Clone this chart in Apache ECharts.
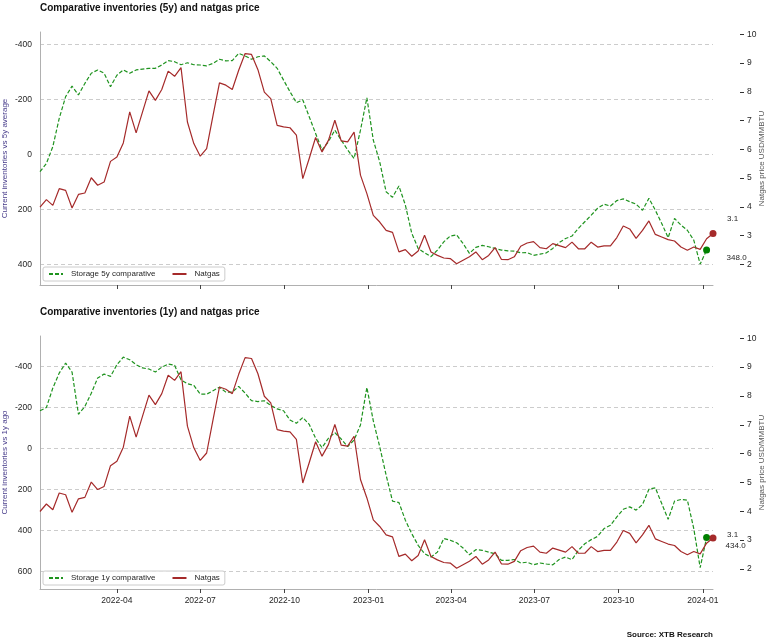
<!DOCTYPE html>
<html><head><meta charset="utf-8">
<script src="https://cdn.jsdelivr.net/npm/echarts@6/dist/echarts.min.js"></script>
<style>html,body{margin:0;padding:0;background:#fff}#c{width:770px;height:643px}</style>
</head><body><div id="c"></div>
<script>
// weekly observations starting 2022-01-07
const startDate = '2022-01-07';
const storage5y = [63,33,-28,-131,-210,-248,-216,-258,-295,-307,-295,-246,-288,-307,-295,-307,-310,-313,-313,-325,
  -341,-337,-326,-333,-326,-325,-322,-331,-346,-340,-341,-367,-358,-346,-355,-358,-337,-313,-270,-228,
  -188,-198,-137,-76,-16,-46,-88,-52,-16,15,-88,-206,-52,27,136,156,115,184,287,342,
  358,372,348,318,297,293,324,360,338,331,336,342,348,351,352,358,357,367,363,358,
  342,321,306,297,269,245,221,196,181,188,168,162,172,181,203,160,203,251,303,233,
  257,276,312,399,348];
const storage1y = [-185,-201,-296,-369,-418,-374,-168,-206,-271,-345,-364,-353,-410,-447,-434,-410,-394,-389,-374,-398,
  -413,-407,-336,-317,-309,-266,-266,-283,-300,-276,-276,-304,-271,-234,-230,-234,-211,-194,-185,-140,
  -124,-152,-119,-51,-5,-51,-78,-47,-10,-42,-116,-299,-136,-10,129,256,263,349,415,472,
  513,529,505,439,447,459,485,518,493,496,505,513,545,545,541,558,554,567,558,563,
  567,541,529,542,496,464,444,428,390,374,333,296,284,300,273,198,191,268,345,256,
  248,251,390,581,434];
const natgas = [3.99,4.25,4.05,4.63,4.57,3.96,4.43,4.48,5.01,4.75,4.86,5.58,5.73,6.22,7.30,6.57,7.30,8.03,7.70,8.08,
  8.72,8.54,8.84,6.95,6.20,5.76,6.02,7.18,8.31,8.23,8.08,8.75,9.33,9.30,8.77,7.99,7.76,6.83,6.78,6.75,
  6.49,4.98,5.68,6.41,5.91,6.31,7.01,6.29,6.26,6.60,5.10,4.46,3.70,3.47,3.18,3.11,2.43,2.51,2.28,2.46,
  3.01,2.43,2.31,2.22,2.20,2.02,2.14,2.26,2.43,2.16,2.31,2.58,2.17,2.16,2.26,2.63,2.74,2.79,2.58,2.54,
  2.72,2.65,2.58,2.77,2.54,2.54,2.77,2.60,2.64,2.64,2.93,3.33,3.23,2.90,3.18,3.51,3.04,2.95,2.86,2.81,
  2.60,2.49,2.60,2.52,2.89,3.07];
const xTickDates = ['2022-04-01','2022-07-01','2022-10-01','2023-01-01','2023-04-01','2023-07-01','2023-10-01','2024-01-01'];
const leftTicks5y = [-400,-200,0,200,400];
const leftTicks1y = [-400,-200,0,200,400,600];
const rightTicks = [2,3,4,5,6,7,8,9,10];

const WEEK = 7*24*3600*1000;
const t0 = Date.parse(startDate + 'T00:00:00Z');
const dates = natgas.map((_, i) => t0 + i * WEEK);
const xTicks = xTickDates.map(s => Date.parse(s + 'T00:00:00Z'));
const fmtDate = v => { const d = new Date(v); return d.getUTCFullYear() + '-' + String(d.getUTCMonth() + 1).padStart(2, '0'); };

const FONT = '"Liberation Sans", Arial, sans-serif';
const GREEN = '#1f931f', GREEN_DOT = '#008000', RED = '#a52a2a';
const xMin = dates[0], xMax = dates[dates.length - 1];

function xAxis(gi, showLabels) {
  return {
    type: 'value', gridIndex: gi, min: xMin, max: xMax,
    axisLine: { show: true, onZero: false, lineStyle: { color: '#b0b0b0', width: 1 } },
    axisTick: { show: true, length: 4, customValues: xTicks, lineStyle: { color: '#444' } },
    axisLabel: { show: showLabels, customValues: xTicks, formatter: fmtDate, fontSize: 8.5, color: '#262626', margin: 7, fontFamily: FONT },
    splitLine: { show: false }
  };
}
function leftAxis(gi, mn, mx, ticks, name) {
  return {
    type: 'value', gridIndex: gi, position: 'left', inverse: true, min: mn, max: mx,
    axisLine: { show: true, onZero: false, lineStyle: { color: '#b0b0b0', width: 1 } },
    axisTick: { show: false, customValues: ticks },
    axisLabel: { customValues: ticks, fontSize: 8.5, color: '#262626', margin: 8, fontFamily: FONT },
    splitLine: { show: true, lineStyle: { color: '#cccccc', type: [4, 3], width: 1 } },
    name: name, nameLocation: 'middle', nameGap: 31, nameMoveOverlap: false,
    nameTextStyle: { color: '#483d8b', fontSize: 8, fontFamily: FONT }
  };
}
function rightAxis(gi, mn, mx) {
  return {
    type: 'value', gridIndex: gi, position: 'right', offset: 27, min: mn, max: mx,
    axisLine: { show: false, onZero: false },
    axisTick: { show: true, length: 4, customValues: rightTicks, lineStyle: { color: '#333' } },
    axisLabel: { customValues: rightTicks, fontSize: 8.5, color: '#262626', margin: 7, fontFamily: FONT },
    splitLine: { show: false },
    name: 'Natgas price USD/MMBTU', nameLocation: 'middle', nameGap: 18, nameMoveOverlap: false,
    nameTextStyle: { color: '#555', fontSize: 8, fontFamily: FONT }
  };
}
function lineSeries(name, xi, yi, vals, color, dashed) {
  return {
    name: name, type: 'line', xAxisIndex: xi, yAxisIndex: yi,
    data: vals.map((v, i) => [dates[i], v]),
    symbol: 'none', showSymbol: false, animation: false,
    lineStyle: { color: color, width: 1.2, type: dashed ? [4, 2] : 'solid' },
    itemStyle: { color: color }
  };
}
function dotSeries(name, xi, yi, vals, color, offset) {
  const i = vals.length - 1;
  return {
    name: name, type: 'scatter', xAxisIndex: xi, yAxisIndex: yi, z: 5,
    data: [[dates[i], vals[i]]], symbolSize: 7, itemStyle: { color: color, opacity: 1 },
    label: { show: true, position: 'inside', align: 'left', offset: offset,
      formatter: p => p.value[1].toFixed(1), color: '#262626', opacity: 1, fontSize: 8, fontFamily: FONT, textBorderWidth: 0 },
    animation: false
  };
}
function legend(top, names) {
  return {
    left: 43, top: top, orient: 'horizontal', data: names,
    padding: [3, 5, 3, 5], itemWidth: 14, itemHeight: 8, itemGap: 16,
    borderColor: '#cccccc', borderWidth: 1, borderRadius: 2, backgroundColor: 'rgba(255,255,255,0.8)',
    itemStyle: { color: 'rgba(0,0,0,0)', borderWidth: 0, opacity: 0 },
    textStyle: { fontSize: 8, color: '#262626', fontFamily: FONT, padding: [0, 0, 0, 3] },
    selectedMode: false
  };
}

const chart = echarts.init(document.getElementById('c'), null, { renderer: 'canvas' });
chart.setOption({
  animation: false,
  backgroundColor: '#fff',
  textStyle: { fontFamily: FONT },
  title: [
    { text: 'Comparative inventories (5y) and natgas price', left: 40, top: 3, padding: 0,
      textStyle: { fontSize: 10, fontWeight: 'bold', color: '#111', fontFamily: FONT } },
    { text: 'Comparative inventories (1y) and natgas price', left: 40, top: 307, padding: 0,
      textStyle: { fontSize: 10, fontWeight: 'bold', color: '#111', fontFamily: FONT } },
    { text: 'Source: XTB Research', right: 57, top: 631, padding: 0,
      textStyle: { fontSize: 8, fontWeight: 'bold', color: '#111', fontFamily: FONT } }
  ],
  grid: [
    { left: 40, top: 32, width: 673, height: 253, containLabel: false, outerBoundsMode: 'none' },
    { left: 40, top: 336, width: 673, height: 253, containLabel: false, outerBoundsMode: 'none' }
  ],
  legend: [
    legend(267, ['Storage 5y comparative', 'Natgas']),
    legend(571, ['Storage 1y comparative', 'Natgas'])
  ],
  xAxis: [xAxis(0, false), xAxis(1, true)],
  yAxis: [
    leftAxis(0, -445, 475, leftTicks5y, 'Current inventories vs 5y average'),
    rightAxis(0, 1.28, 10.08),
    leftAxis(1, -550, 685, leftTicks1y, 'Current inventories vs 1y ago'),
    rightAxis(1, 1.3, 10.08)
  ],
  series: [
    lineSeries('Storage 5y comparative', 0, 0, storage5y, GREEN, true),
    lineSeries('Natgas', 0, 1, natgas, RED, false),
    dotSeries('last5y', 0, 0, storage5y, GREEN_DOT, [20, 8]),
    dotSeries('lastGas1', 0, 1, natgas, RED, [14, -15]),
    lineSeries('Storage 1y comparative', 1, 2, storage1y, GREEN, true),
    lineSeries('Natgas', 1, 3, natgas, RED, false),
    dotSeries('last1y', 1, 2, storage1y, GREEN_DOT, [19, 8]),
    dotSeries('lastGas2', 1, 3, natgas, RED, [14, -3])
  ]
});
</script></body></html>
